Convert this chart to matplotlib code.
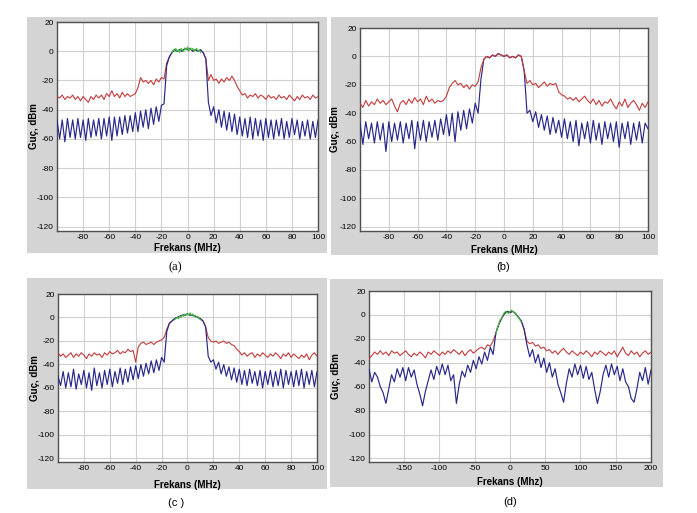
import numpy as np
import matplotlib
matplotlib.use("Agg")
import matplotlib.pyplot as plt
from matplotlib.patches import Rectangle

plt.rcParams['font.family'] = ['Liberation Sans', 'DejaVu Sans']
plt.rcParams['axes.unicode_minus'] = False

# ---- data (dBm) ----
# panels a, b, c: -100..100 MHz, 2 MHz step
freq_abc = np.arange(-100, 101, 2)
# panel d: -200..200 MHz, 4 MHz step
freq_d = np.arange(-200, 201, 4)

red_a = [-31, -32, -30, -33, -31, -32, -30, -33, -31, -34,
         -31, -33, -35, -31, -33, -30, -32, -30, -33, -29,
         -31, -27, -31, -29, -32, -28, -31, -29, -31, -30,
         -29, -25, -18, -21, -20, -22, -20, -23, -19, -21,
         -18, -19, -8, -4, -1, 1, 0, 1, 0, 2,
         1, 2, 0, 1, 0, 1, -1, -5, -20, -16,
         -20, -19, -22, -19, -21, -18, -20, -17, -20, -24,
         -27, -30, -29, -32, -30, -31, -29, -32, -30, -31,
         -33, -30, -32, -31, -33, -30, -32, -31, -33, -30,
         -32, -34, -31, -33, -30, -32, -31, -33, -30, -32,
         -31]
blue_a = [-47, -60, -47, -62, -46, -59, -47, -60, -46, -59,
          -47, -61, -46, -59, -47, -58, -46, -60, -46, -58,
          -45, -61, -45, -58, -45, -57, -44, -56, -44, -55,
          -42, -55, -41, -52, -40, -53, -39, -50, -38, -48,
          -37, -36, -10, -4, -1, 1, 0, 1, 0, 2,
          1, 2, 0, 1, 0, 1, -1, -5, -35, -44,
          -38, -49, -40, -52, -41, -54, -42, -55, -43, -57,
          -45, -58, -46, -59, -45, -60, -46, -58, -47, -61,
          -46, -59, -47, -60, -47, -58, -46, -60, -48, -59,
          -46, -57, -47, -60, -48, -58, -47, -60, -48, -59,
          -47]
green_a_f = np.arange(-12, 11, 1)
green_a = [-1, 1, 0, 2, 0, 1, -1, 2, 1, 0, 2, 1, 3, 0, 2, 1, 2, 0, 1, 2, 0, 1, -1]

red_b = [-33, -36, -31, -35, -32, -34, -30, -33, -31, -34,
         -32, -30, -35, -39, -33, -31, -34, -30, -33, -29,
         -32, -30, -34, -28, -32, -30, -33, -31, -32, -31,
         -28, -22, -19, -17, -20, -19, -22, -20, -23, -20,
         -21, -18, -8, -2, 0, -1, 1, 0, 2, 1,
         0, 1, -1, 0, -1, 1, 0, -10, -19, -17,
         -20, -19, -22, -20, -18, -21, -19, -20, -19, -25,
         -27, -28, -30, -29, -31, -29, -32, -30, -28, -31,
         -33, -30, -34, -31, -35, -32, -33, -30, -34, -37,
         -32, -35, -30, -36, -33, -31, -34, -38, -33, -36,
         -32]
blue_b = [-47, -62, -46, -58, -47, -61, -46, -59, -47, -67,
          -46, -60, -47, -59, -46, -61, -47, -58, -45, -65,
          -46, -59, -45, -60, -46, -57, -45, -59, -44, -55,
          -41, -56, -40, -60, -39, -52, -38, -51, -37, -47,
          -33, -40, -16, -2, 0, -1, 1, 0, 2, 1,
          0, 1, -1, 0, -1, 1, 0, -10, -40, -38,
          -46, -39, -50, -41, -52, -42, -55, -43, -54, -45,
          -57, -44, -58, -46, -60, -45, -63, -47, -58, -46,
          -61, -45, -59, -47, -62, -46, -58, -47, -60, -46,
          -64, -47, -58, -46, -62, -47, -59, -46, -61, -47,
          -51]

red_c = [-30, -33, -31, -34, -32, -30, -34, -31, -33, -30,
         -32, -35, -31, -33, -30, -32, -31, -34, -30, -32,
         -29, -31, -30, -28, -31, -29, -30, -27, -29, -28,
         -38, -25, -22, -21, -23, -22, -21, -23, -21, -20,
         -19, -17, -10, -5, -3, -1, 0, 1, 2, 2,
         3, 2, 2, 1, 0, -1, -3, -8, -17, -20,
         -21, -20, -22, -21, -20, -22, -21, -23, -24, -27,
         -29, -32, -30, -33, -31, -30, -34, -31, -33, -30,
         -32, -34, -31, -33, -30, -32, -35, -31, -33, -30,
         -34, -31, -33, -35, -32, -34, -31, -36, -32, -30,
         -33]
blue_c = [-50, -58, -46, -60, -47, -59, -44, -61, -48, -57,
          -45, -60, -47, -62, -43, -58, -47, -60, -45, -57,
          -44, -59, -46, -56, -43, -57, -44, -55, -42, -53,
          -41, -52, -40, -50, -39, -48, -37, -47, -36, -45,
          -34, -38, -12, -5, -3, -1, 0, 1, 2, 2,
          3, 2, 2, 1, 0, -1, -3, -8, -33, -38,
          -36, -44, -38, -48, -40, -50, -42, -53, -43, -55,
          -44, -57, -45, -58, -44, -56, -46, -58, -45, -60,
          -46, -57, -45, -59, -46, -58, -44, -60, -45, -57,
          -46, -59, -45, -58, -44, -60, -46, -57, -45, -59,
          -46]
green_c_f = np.arange(-10, 11, 1)
green_c = [-2, -1, 0, -1, 1, 0, 2, 1, 3, 2, 3, 2, 4, 2, 3, 1, 2, 0, 1, -1, -2]

red_d = [-37, -34, -31, -33, -30, -33, -31, -34, -30, -32,
         -31, -34, -32, -30, -33, -35, -32, -34, -31, -33,
         -36, -31, -33, -30, -32, -34, -31, -33, -30, -32,
         -29, -31, -33, -30, -34, -31, -29, -32, -30, -28,
         -27, -29, -25, -26, -22, -15, -8, -3, 1, 3,
         2, 3, 1, -2, -5, -12, -22, -24, -23, -26,
         -25, -28, -27, -30, -29, -32, -30, -33, -30, -28,
         -31, -33, -30, -32, -34, -31, -33, -30, -32, -35,
         -31, -33, -30, -32, -34, -31, -33, -30, -35, -31,
         -27, -32, -34, -30, -33, -31, -35, -32, -30, -33,
         -31]
blue_d = [-45, -56, -48, -52, -60, -65, -74, -62, -50, -56,
          -45, -52, -44, -55, -44, -52, -46, -58, -66, -76,
          -64, -55, -46, -54, -43, -50, -41, -50, -42, -55,
          -50, -74, -58, -47, -52, -42, -48, -38, -45, -35,
          -41, -31, -38, -27, -33, -15, -8, -3, 1, 3,
          2, 3, 1, -2, -5, -12, -25, -35, -29, -40,
          -33, -44, -36, -48, -40, -52, -45, -58, -65, -73,
          -57, -45, -52, -41, -50, -42, -53, -43, -54, -48,
          -62, -74, -64, -50, -42, -52, -41, -50, -43, -55,
          -45, -56, -60, -70, -73, -62, -48, -55, -44, -58,
          -46]
green_d_f = np.arange(-20, 17, 2)
green_d = [-16, -11, -8, -4, -3, 0, 2, 3, 2, 1, 3, 4, 3, 2, 1, -1, -2, -4, -6]

RED = '#c43c3c'
BLUE = '#28288a'
GREEN = '#3cc03c'
PANEL_GRAY = '#d4d4d4'

fig = plt.figure(figsize=(6.97, 5.13), dpi=100)
fig.patch.set_facecolor('white')

# gray frames behind each chart (figure fraction)
for x0, y0, w, h in [(0.0387, 0.5068, 0.4304, 0.4600),
                     (0.4749, 0.5029, 0.4692, 0.4639),
                     (0.0387, 0.0468, 0.4304, 0.4113),
                     (0.4735, 0.0507, 0.4778, 0.4055)]:
    fig.patches.append(Rectangle((x0, y0), w, h, transform=fig.transFigure,
                                 facecolor=PANEL_GRAY, edgecolor='none', zorder=-10))


def draw_panel(rect, freq, red, blue, green_f, green, xlim, xticks, xlabel,
               xlab_y, ylab_x, red_on_top=False):
    ax = fig.add_axes(rect)
    ax.set_zorder(5)
    ax.set_facecolor('white')
    if red_on_top:
        ax.plot(freq, blue, color=BLUE, lw=0.85, zorder=3)
        ax.plot(freq, red, color=RED, lw=0.8, zorder=4)
    else:
        ax.plot(freq, red, color=RED, lw=0.8, zorder=3)
        ax.plot(freq, blue, color=BLUE, lw=0.85, zorder=4)
    if green_f is not None:
        ax.plot(green_f, green, color=GREEN, lw=0.8, zorder=5)
    ax.set_xlim(*xlim)
    ax.set_ylim(-123, 20)
    ax.set_xticks(xticks)
    ax.set_yticks(np.arange(-120, 21, 20))
    ax.grid(True, color='#d0d0d0', lw=0.8)
    ax.set_axisbelow(True)
    ax.tick_params(length=0, labelsize=6, pad=2.5)
    for s in ax.spines.values():
        s.set_color('#505050')
        s.set_linewidth(1.0)
    ax.set_xlabel(xlabel, fontsize=7, fontweight='bold')
    ax.set_ylabel('Guç, dBm', fontsize=7, fontweight='bold')
    ax.xaxis.set_label_coords(0.5, xlab_y)
    ax.yaxis.set_label_coords(ylab_x, 0.5)
    return ax


ticks_100 = np.arange(-80, 101, 20)
draw_panel([0.0818, 0.5497, 0.3745, 0.4074], freq_abc, red_a, blue_a,
           green_a_f, green_a, (-100, 100), ticks_100, 'Frekans (MHz)', -0.058, -0.068)
draw_panel([0.5165, 0.5497, 0.4132, 0.3957], freq_abc, red_b, blue_b,
           None, None, (-100, 100), ticks_100, 'Frekans (MHz)', -0.069, -0.07,
           red_on_top=True)
draw_panel([0.0832, 0.0994, 0.3716, 0.3275], freq_abc, red_c, blue_c,
           green_c_f, green_c, (-100, 100), ticks_100, 'Frekans (MHz)', -0.107, -0.07)
draw_panel([0.5294, 0.0994, 0.4046, 0.3333], freq_d, red_d, blue_d,
           green_d_f, green_d, (-200, 200), np.arange(-150, 201, 50), 'Frekans (Mhz)',
           -0.088, -0.1)

# captions under each chart
fig.text(175 / 697, 1 - 267 / 513, '(a)', ha='center', va='center', fontsize=9,
         family=['Liberation Serif', 'DejaVu Serif'])
fig.text(503 / 697, 1 - 267 / 513, '(b)', ha='center', va='center', fontsize=8)
fig.text(176 / 697, 1 - 503 / 513, '(c )', ha='center', va='center', fontsize=8)
fig.text(510 / 697, 1 - 502 / 513, '(d)', ha='center', va='center', fontsize=8)

fig.savefig('out.png', dpi=100)
